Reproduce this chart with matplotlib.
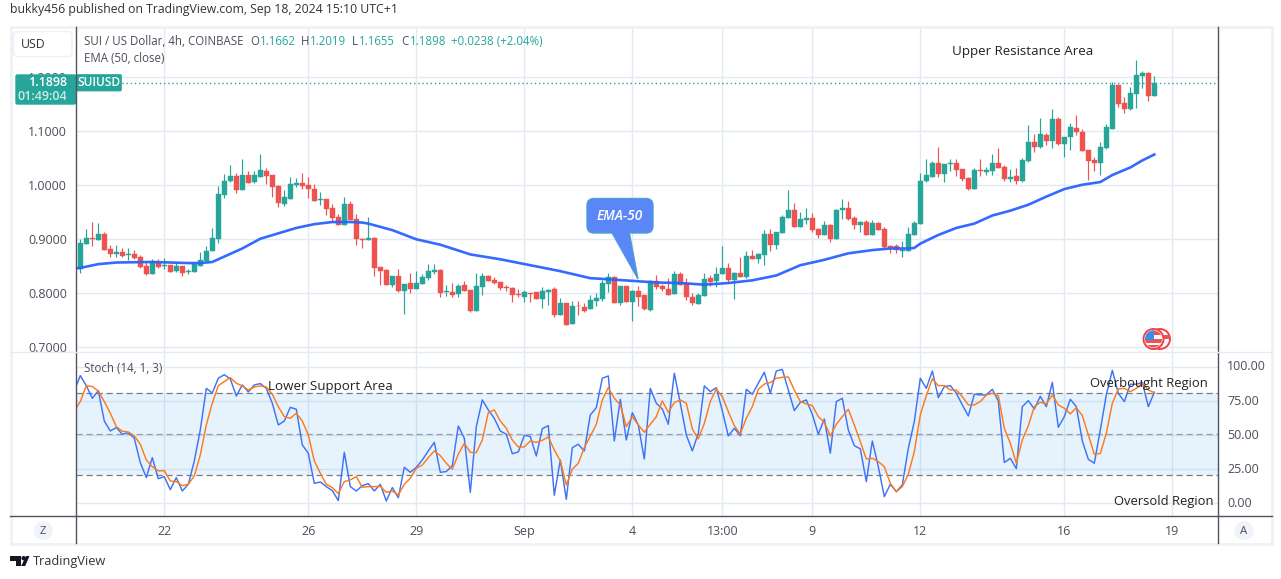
import matplotlib
matplotlib.use("Agg")
import matplotlib.pyplot as plt
from matplotlib.patches import Rectangle, FancyBboxPatch, Circle, Polygon
from matplotlib.transforms import ScaledTranslation

opens = [.845,.891,.903,.899,.910,.882,.873,.877,.870,.873,
 .867,.851,.836,.858,.850,.853,.842,.851,.840,.840,
 .851,.860,.879,.901,.982,1.008,1.017,.991,1.019,1.006,
 1.016,1.027,1.019,.999,.966,.975,1.001,1.004,1.001,.993,
 .973,.975,.958,.941,.927,.966,.938,.901,.898,.902,
 .849,.843,.815,.832,.804,.819,.808,.817,.828,.839,
 .843,.803,.803,.799,.815,.806,.768,.812,.832,.825,
 .821,.811,.810,.799,.793,.801,.803,.790,.803,.808,
 .760,.782,.744,.777,.775,.770,.786,.790,.817,.830,
 .782,.814,.784,.804,.797,.769,.823,.814,.808,.799,
 .836,.819,.793,.780,.795,.829,.823,.836,.847,.825,
 .838,.830,.869,.864,.871,.910,.890,.912,.940,.954,
 .923,.936,.940,.919,.908,.927,.901,.954,.958,.940,
 .927,.932,.908,.930,.919,.888,.888,.878,.878,.908,
 .928,1.008,1.016,1.041,1.021,1.040,1.041,1.030,1.014,.993,
 1.028,1.025,1.027,1.041,1.034,1.012,1.017,1.008,1.045,1.080,
 1.071,1.093,1.082,1.123,1.077,1.090,1.106,1.099,1.065,1.047,
 1.041,1.069,1.104,1.186,1.152,1.141,1.169,1.202,1.208,1.1662]
highs = [.901,.919,.932,.930,.914,.890,.890,.884,.884,.880,
 .871,.860,.864,.864,.866,.853,.858,.851,.845,.856,
 .877,.888,.921,.999,1.021,1.038,1.023,1.049,1.027,1.027,
 1.058,1.032,1.019,1.001,.991,1.016,1.014,1.023,1.016,1.003,
 .988,.975,.966,.947,.978,.971,.947,.902,.942,.904,
 .849,.845,.832,.845,.817,.838,.841,.836,.854,.854,
 .845,.815,.819,.817,.823,.806,.838,.838,.834,.830,
 .821,.815,.812,.808,.806,.801,.803,.812,.808,.812,
 .792,.782,.786,.786,.782,.797,.801,.825,.838,.832,
 .814,.814,.806,.814,.797,.825,.834,.817,.829,.841,
 .840,.829,.801,.801,.838,.834,.849,.888,.856,.840,
 .867,.878,.880,.875,.917,.919,.914,.945,.991,.967,
 .951,.958,.949,.921,.934,.928,.956,.975,.971,.943,
 .934,.936,.936,.932,.923,.890,.891,.897,.923,.934,
 1.023,1.049,1.045,1.071,1.040,1.049,1.049,1.030,1.016,1.032,
 1.049,1.034,1.058,1.069,1.038,1.030,1.032,1.051,1.112,1.095,
 1.125,1.097,1.141,1.127,1.090,1.115,1.130,1.104,1.065,1.053,
 1.080,1.114,1.191,1.186,1.164,1.182,1.232,1.212,1.210,1.2019]
lows = [.838,.891,.888,.899,.880,.867,.867,.867,.862,.864,
 .847,.834,.836,.847,.845,.840,.840,.832,.836,.840,
 .851,.860,.879,.893,.977,1.006,.986,.991,1.004,1.004,
 1.016,1.003,.978,.960,.962,.975,.997,.993,.977,.971,
 .964,.945,.932,.927,.927,.936,.890,.884,.898,.832,
 .815,.815,.812,.803,.762,.801,.808,.817,.825,.836,
 .793,.795,.793,.793,.804,.766,.768,.797,.823,.817,
 .806,.804,.784,.793,.784,.784,.790,.773,.779,.757,
 .760,.742,.744,.760,.766,.770,.777,.786,.803,.782,
 .779,.784,.749,.777,.769,.767,.808,.804,.797,.799,
 .816,.788,.779,.780,.795,.814,.812,.836,.819,.790,
 .830,.829,.864,.856,.853,.878,.882,.912,.940,.923,
 .923,.928,.914,.903,.908,.895,.901,.938,.936,.919,
 .914,.908,.908,.917,.884,.875,.875,.867,.878,.908,
 .928,1.006,1.016,1.016,1.006,1.027,1.017,1.008,.991,.993,
 1.017,1.019,1.019,1.032,1.008,1.006,1.003,1.006,1.043,1.062,
 1.069,1.075,1.069,1.075,1.053,1.065,1.093,1.064,1.010,1.027,
 1.019,1.067,1.104,1.145,1.134,1.140,1.143,1.180,1.156,1.1655]
closes = [.893,.903,.901,.910,.880,.873,.877,.869,.873,.866,
 .849,.836,.858,.849,.853,.840,.851,.838,.842,.854,
 .862,.879,.903,.984,1.008,1.017,.991,1.019,1.004,1.019,
 1.028,1.017,.997,.967,.978,1.003,1.004,.999,.993,.971,
 .975,.956,.940,.927,.966,.936,.901,.899,.902,.847,
 .841,.815,.832,.804,.817,.808,.819,.830,.841,.843,
 .801,.804,.797,.814,.804,.768,.814,.832,.823,.819,
 .810,.810,.797,.797,.803,.799,.790,.804,.806,.760,
 .782,.742,.777,.776,.768,.788,.792,.819,.830,.782,
 .814,.784,.804,.793,.771,.823,.812,.808,.797,.836,
 .816,.793,.782,.797,.827,.821,.836,.847,.825,.838,
 .830,.869,.864,.873,.910,.890,.914,.941,.954,.923,
 .938,.940,.917,.908,.927,.901,.954,.958,.938,.927,
 .932,.908,.930,.917,.886,.884,.880,.880,.910,.930,
 1.008,1.019,1.041,1.021,1.040,1.041,1.028,1.012,.993,1.028,
 1.027,1.028,1.041,1.032,1.012,1.016,1.008,1.047,1.080,1.071,
 1.095,1.082,1.123,1.077,1.090,1.108,1.099,1.064,1.045,1.041,
 1.071,1.108,1.186,1.151,1.141,1.171,1.204,1.208,1.165,1.1898]

ema_bars = [-1,0,3,6,12,18,20,22,24,27,30,33,36,39,42,45,47,48,52,56,60,65,70,75,80,85,88,92,
            96,100,104,108,112,116,120,124,128,132,135,138,139,140,143,146,149,152,155,158,161,164,167,170,172,175,177,179]
ema_values = [.846,.847,.854,.857,.858,.856,.856,.858,.868,.883,.901,.911,.921,.928,.932,.932,.931,.929,.917,.900,
              .890,.872,.863,.852,.841,.828,.826,.823,.820,.819,.816,.819,.824,.833,.852,.862,.874,.880,.883,.883,
              .884,.892,.908,.921,.929,.944,.953,.964,.979,.993,1.001,1.006,1.019,1.033,1.046,1.057]

stoch_k = [82.4,93.4,86.1,76.8,82.4,60.2,52.9,55.4,50.5,51.7,47.6,29.8,18.8,33.4,18.0,19.5,10.0,18.8,9.0,13.9,31.0,
 53.7,84.1,80.7,91.5,94.1,91.0,78.5,86.6,81.5,86.6,87.6,84.1,73.2,57.3,60.2,70.2,68.8,42.7,36.6,14.6,
 15.6,12.2,9.3,2.0,37.3,12.2,9.0,12.9,14.4,
 9.0,13.9,1.7,11.5,4.1,26.3,22.7,26.3,31.7,38.3,44.6,22.7,23.2,27.6,56.6,47.6,8.0,56.1,75.6,68.3,62.2,
 52.9,50.5,36.3,37.6,49.8,48.8,34.6,54.6,56.8,5.9,31.7,2.9,40.7,43.2,38.3,64.6,70.0,91.5,93.2,45.6,76.1,
 46.3,66.3,57.3,32.4,84.1,73.2,69.0,
 57.8,95.1,73.2,50.0,38.3,51.2,85.9,81.7,84.6,67.6,49.3,54.9,49.5,83.4,79.8,87.8,95.9,80.5,96.8,98.0,82.9,
 67.8,73.9,75.6,65.1,50.5,61.7,36.6,74.4,76.8,53.7,42.2,39.8,15.9,45.6,26.8,4.9,13.9,8.5,13.4,40.2,59.8,
 91.5,84.1,96.8,77.3,85.4,86.1,
 80.5,72.0,63.9,79.8,79.3,79.3,83.4,74.9,29.8,32.9,25.4,70.7,75.1,69.0,78.3,70.7,88.5,55.6,63.4,76.1,70.7,
 45.6,32.2,29.3,53.7,79.3,97.3,80.5,74.4,87.1,87.1,88.5,70.7,81.2]
stoch_d = [67.6,74.4,86.1,85.4,82.2,74.4,65.9,56.1,52.7,52.2,49.3,43.2,31.7,26.8,23.7,23.9,16.3,15.9,12.9,13.9,20.0,
 35.4,57.3,73.2,86.1,89.0,92.0,87.8,85.9,82.9,85.1,85.9,85.1,79.8,70.7,63.4,62.2,65.9,60.2,50.0,31.0,
 22.0,13.9,11.5,7.1,15.9,17.1,19.5,11.7,12.2,
 12.2,12.4,8.0,9.0,6.1,13.9,18.3,25.6,28.0,33.4,38.3,34.9,29.3,24.9,35.9,43.9,37.3,37.1,46.3,66.3,68.3,
 60.2,54.9,46.3,41.2,41.2,45.6,44.6,46.1,48.5,39.0,31.0,13.4,24.9,29.3,40.7,49.3,57.8,75.6,84.6,76.8,72.0,
 56.1,63.4,57.3,52.0,57.8,63.4,74.9,
 66.6,73.7,75.6,73.2,54.4,47.1,58.5,74.4,83.7,78.0,67.1,56.8,50.7,62.2,70.7,83.4,87.3,88.3,91.5,92.2,92.4,
 82.9,74.4,72.7,71.5,63.4,59.3,49.3,57.8,63.4,68.8,57.3,45.1,32.4,32.9,30.5,26.8,14.6,8.5,12.2,21.2,37.8,
 64.6,78.8,91.0,86.1,86.1,82.9,
 82.9,78.0,72.0,72.0,74.4,79.3,80.5,78.8,54.9,43.9,29.3,46.3,56.8,70.7,73.9,72.7,79.3,72.0,69.5,65.4,70.0,
 64.2,50.0,35.9,36.4,51.2,73.2,83.7,84.1,81.7,84.1,87.8,82.9,81.0]
stoch_bars = list(range(-1, 180))

tick_bars = [14, 38, 56, 74, 92, 107, 122, 140, 164, 182]
tick_labels = ["22", "26", "29", "Sep", "4", "13:00", "9", "12", "16", "19"]
price_ticks = [1.2, 1.1, 1.0, 0.9, 0.8, 0.7]
stoch_ticks = [100, 75, 50, 25, 0]
stoch_levels = [80.5, 50.5, 20.5]
last_price = 1.1898

GREEN, RED = "#26a69a", "#ef5350"
GRID = "#e2eaf1"
AXIS = "#50535e"
TEXT = "#4a4e5a"
FONT = "Open Sans"
plt.rcParams["font.family"] = FONT

W, H = 1281, 579
fig = plt.figure(figsize=(W / 100, H / 100), dpi=100, facecolor="white")

def axes_px(x0, y0, x1, y1, **kw):
    return fig.add_axes([x0 / W, 1 - y1 / H, (x1 - x0) / W, (y1 - y0) / H], **kw)

ax = axes_px(75.5, 27, 1217.5, 352)
st = axes_px(75.5, 352, 1217.5, 516)
for a in (ax, st):
    a.set_xlim(-0.8, 189.53)
    for s in a.spines.values():
        s.set_visible(False)
    a.set_axisbelow(True)
    a.grid(True, color=GRID, lw=1.0)
    a.set_xticks(tick_bars)
ax.set_ylim(0.6913, 1.2931)
st.set_ylim(-9.3, 110.7)

ax.set_yticks(price_ticks)
ax.set_yticklabels([f"{p:.4f}" for p in price_ticks])
ax.tick_params(axis="y", length=0, pad=6, labelsize=9, labelcolor=TEXT)
ax.tick_params(axis="x", length=0, labelbottom=False)

st.yaxis.tick_right()
st.set_yticks(stoch_ticks)
st.set_yticklabels([f"{v:.2f}" for v in stoch_ticks])
st.tick_params(axis="y", length=0, pad=7, labelsize=9, labelcolor=TEXT)
up = ScaledTranslation(0, 1.2 / 100, fig.dpi_scale_trans)
for lab in st.get_yticklabels():
    lab.set_transform(lab.get_transform() + up)
st.set_xticklabels(tick_labels)
st.tick_params(axis="x", length=0, pad=6.5, labelsize=9, labelcolor=TEXT)

# candles
bars = range(len(closes))
colors = [GREEN if c >= o else RED for o, c in zip(opens, closes)]
ax.vlines(bars, lows, highs, colors=colors, lw=0.85, zorder=3)
ax.bar(bars, [abs(c - o) for o, c in zip(opens, closes)], bottom=[min(o, c) for o, c in zip(opens, closes)],
       width=0.82, color=colors, edgecolor=colors, lw=0.3, zorder=4)
ax.plot(ema_bars, ema_values, color="#2962ff", lw=1.9, zorder=5, alpha=0.95)
ax.axhline(last_price, color=GREEN, lw=1.0, ls=(0, (1, 2)), zorder=5)

# stochastic
st.axhspan(stoch_levels[2], stoch_levels[0], color="#2196f3", alpha=0.11, lw=0, zorder=1)
for lv, col in zip(stoch_levels, ["#787b86", "#9a9da6", "#787b86"]):
    st.axhline(lv, color=col, lw=0.9, ls=(0, (5, 3)), zorder=2)
st.plot(stoch_bars, stoch_k, color="#3f73f5", lw=1.05, zorder=4)
st.plot(stoch_bars, stoch_d, color="#ff7a1a", lw=1.05, zorder=5)

# overlay for chart furniture, in picture pixels
ov = fig.add_axes([0, 0, 1, 1], zorder=10)
ov.set_xlim(0, W)
ov.set_ylim(H, 0)
ov.axis("off")
ov.patch.set_alpha(0)

ov.add_patch(Rectangle((10.5, 26.5), 1261.5, 517.5, fill=False, ec="#eff1f7", lw=2))
ov.plot([75.5, 75.5], [27, 543], color=AXIS, lw=1)
ov.plot([1217.5, 1217.5], [27, 543], color=AXIS, lw=1)
ov.plot([10, 1272], [516, 516], color=AXIS, lw=1)
ov.plot([10, 1272], [352.3, 352.3], color="#e6ebf2", lw=1)

ov.text(10, 10, "bukky456 published on TradingView.com, Sep 18, 2024 15:10 UTC+1", fontsize=8.8,
        color="#333333", va="center")

ov.add_patch(FancyBboxPatch((15, 33), 55.5, 22, boxstyle="round,pad=1.5,rounding_size=4", fc="white", ec="#eef0f5", lw=1))
ov.text(33.5, 45, "USD", fontsize=8.8, color="#333333", ha="center", va="center")

# legend rows
LEG = 8.3
ov.text(84, 41.5, "SUI / US Dollar, 4h, COINBASE", fontsize=LEG, color=TEXT, va="center")
for lab, xl, val, xv in [("O", 250.5, "1.1662", 260), ("H", 301, "1.2019", 310), ("L", 352, "1.1655", 359), ("C", 401, "1.1898", 410)]:
    ov.text(xl, 41.5, lab, fontsize=LEG, color=TEXT, va="center")
    ov.text(xv, 41.5, val, fontsize=LEG, color=GREEN, va="center")
ov.text(451, 41.5, "+0.0238 (+2.04%)", fontsize=LEG, color=GREEN, va="center")
ov.text(84, 59, "EMA (50, close)", fontsize=LEG, color=TEXT, va="center")
ov.text(84, 368, "Stoch (14, 1, 3)", fontsize=LEG, color=TEXT, va="center")

# price tag
ov.add_patch(FancyBboxPatch((16, 75), 59.5, 29, boxstyle="round,pad=0,rounding_size=1.5", fc=GREEN, ec=GREEN, lw=1))
ov.add_patch(FancyBboxPatch((75.5, 74.5), 46, 16.5, boxstyle="round,pad=0,rounding_size=1.5", fc=GREEN, ec=GREEN, lw=0.5))
ov.text(67, 83, "1.1898", fontsize=9, color="white", ha="right", va="center", fontweight="semibold")
ov.text(67, 97, "01:49:04", fontsize=9, color="#c8ebe7", ha="right", va="center", fontweight="semibold")
ov.text(98.5, 83, "SUIUSD", fontsize=8.6, color="white", ha="center", va="center", fontweight="semibold")

# drawn notes
note = dict(color="#222222", va="center")
ov.text(952, 51.5, "Upper Resistance Area", fontsize=9.6, **note)
ov.text(268, 386.5, "Lower Support Area", fontsize=9.6, **note)
ov.text(1090, 383.5, "Overbought Region", fontsize=9.4, **note)
ov.text(1114, 502, "Oversold Region", fontsize=9.4, **note)

# EMA-50 callout
ov.add_patch(Polygon([(611, 231), (638, 279), (629, 231)], closed=True, fc="#5b86f7", ec="#4aa3c9", lw=1))
ov.add_patch(FancyBboxPatch((587, 198.5), 66, 34.5, boxstyle="round,pad=0,rounding_size=7", fc="#5b86f7", ec="#4aa3c9", lw=1))
ov.add_patch(Polygon([(612, 232), (637, 277), (628.5, 232)], closed=True, fc="#5b86f7", ec="none"))
ov.text(620, 215.5, "EMA-50", fontsize=9.8, color="white", ha="center", va="center", style="italic", fontweight="semibold")

# flag icon
ov.add_patch(Circle((1160, 339), 10, fc="white", ec="#f0424a", lw=1.4))
ov.add_patch(Rectangle((1163, 335), 7, 4, fc="#ef5350", ec="none"))
ov.add_patch(Circle((1153.5, 339), 10, fc="white", ec="#f0424a", lw=1.4))
clip = Circle((1153.5, 339), 8.5, transform=ov.transData)
for patch in [Rectangle((1144, 330), 20, 5, fc="#ef5350", ec="none"),
              Rectangle((1144, 339), 20, 3.5, fc="#ef5350", ec="none"),
              Rectangle((1144, 345), 20, 5, fc="#ef5350", ec="none"),
              Rectangle((1144, 330), 9.5, 9.5, fc="#3a8ee6", ec="none")]:
    ov.add_patch(patch)
    patch.set_clip_path(clip)

# corner buttons
for cx, lab in [(43.3, "Z"), (1244, "A")]:
    ov.add_patch(Circle((cx, 530.7), 9.5, fc="#f0f3fa", ec="none"))
    ov.text(cx, 531, lab, fontsize=8.2, color=TEXT, ha="center", va="center")

# TradingView mark
ov.add_patch(Polygon([(10, 556), (21, 556), (21, 566), (16, 566), (16, 560.5), (10, 560.5)], closed=True, fc="#131722", ec="none"))
ov.add_patch(Circle((23.6, 558.2), 2.2, fc="#131722", ec="none"))
ov.add_patch(Polygon([(26, 556), (29.5, 556), (25.2, 566), (21.2, 566)], closed=True, fc="#131722", ec="none"))
ov.text(33, 562, "TradingView", fontsize=9.2, color="#333333", va="center")

fig.savefig("out.png", dpi=100)
